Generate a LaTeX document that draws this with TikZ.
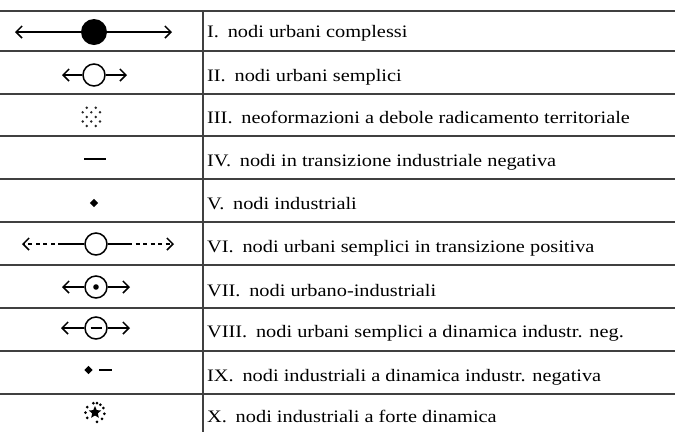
\documentclass[tikz,border=0pt]{standalone}
\usepackage{fontspec}
\setmainfont{Liberation Serif}[FakeStretch=1.16]
\usetikzlibrary{arrows.meta,shapes.geometric}
\begin{document}
\begin{tikzpicture}[x=1bp,y=-1bp,
    rule/.style={color=black!75, line width=1.4bp},
    link/.style={line width=1.5bp},
    barb/.style={link, -{Straight Barb[length=6bp,width=12bp,line width=1.5bp]}},
    ring/.style={circle, draw, line width=1.5bp, minimum size=22bp, inner sep=0pt},
    core/.style={circle, fill, minimum size=26bp, inner sep=0pt},
    spot/.style={diamond, fill, minimum size=8.5bp, inner sep=0pt},
    lbl/.style={anchor=base west, inner sep=0pt, font=\fontsize{17.6}{20}\selectfont}]
    \useasboundingbox (0,0) rectangle (675,432);

    % table rules
    \foreach \y in {11,51,94,136,179,222,265,308,351,394}
        \draw[rule] (0,\y) -- (675,\y);
    \draw[rule] (203,11) -- (203,432);

    % I
    \node[core] (c1) at (94,32) {};
    \coordinate (l1) at (15,32);
    \coordinate (r1) at (172,32);
    \draw[barb] (c1) -- (l1);
    \draw[barb] (c1) -- (r1);

    % II
    \node[ring] (c2) at (94,75) {};
    \coordinate (l2) at (62,75);
    \coordinate (r2) at (127,75);
    \draw[barb] (c2) -- (l2);
    \draw[barb] (c2) -- (r2);

    % III
    \foreach \x/\y in {86.7/107.7, 95.7/107.7, 82.7/112.3, 91.3/112.3, 100/112.3,
                      86.7/117, 95.7/117, 82.7/121.5, 91.3/121.5, 100/121.5,
                      86.7/126, 95.7/126}
        \fill[black!85] (\x,\y) circle (1.35bp);

    % IV
    \coordinate (a4) at (84,159);
    \coordinate (b4) at (106,159);
    \draw[line width=2bp] (a4) -- (b4);

    % V
    \node[spot] (d5) at (94,203) {};

    % VI
    \node[ring] (c6) at (96,244) {};
    \coordinate (l6) at (22,244);
    \coordinate (m6) at (62,244);
    \coordinate (n6) at (128,244);
    \coordinate (r6) at (174,244);
    \draw[link] (c6) -- (m6);
    \draw[link] (c6) -- (n6);
    \draw[barb, dash pattern=on 4bp off 3.5bp] (m6) -- (l6);
    \draw[barb, dash pattern=on 4bp off 3.5bp] (n6) -- (r6);

    % VII
    \node[ring] (c7) at (96,287) {};
    \fill (c7) circle (2.8bp);
    \coordinate (l7) at (62,287);
    \coordinate (r7) at (130,287);
    \draw[barb] (c7) -- (l7);
    \draw[barb] (c7) -- (r7);

    % VIII
    \node[ring] (c8) at (96,328) {};
    \draw[link] ([xshift=-5.5bp]c8.center) -- ([xshift=5.5bp]c8.center);
    \coordinate (l8) at (61,328);
    \coordinate (r8) at (130,328);
    \draw[barb] (c8) -- (l8);
    \draw[barb] (c8) -- (r8);

    % IX
    \node[spot] (d9) at (88.5,370) {};
    \coordinate (a9) at (99,370);
    \coordinate (b9) at (111.5,370);
    \draw[line width=2bp] (a9) -- (b9);

    % X
    \node[star, star points=5, star point ratio=2.2, fill, minimum size=13bp, inner sep=0pt] (s10) at (95,412.5) {};
    \foreach \a in {100,78,55,28,-8,-42,-78,145,180,215}
        \fill (s10.center) ++(\a:9.5bp) circle (1.5bp);

    % labels
    \node[lbl] (t1) at (207,37.7) {I.\enspace nodi urbani complessi};
    \node[lbl] (t2) at (207,81.7) {II.\enspace nodi urbani semplici};
    \node[lbl] (t3) at (207,123.3) {III.\enspace neoformazioni a debole radicamento territoriale};
    \node[lbl] (t4) at (207,166.7) {IV.\enspace nodi in transizione industriale negativa};
    \node[lbl] (t5) at (207,209) {V.\enspace nodi industriali};
    \node[lbl] (t6) at (207,252.7) {VI.\enspace nodi urbani semplici in transizione positiva};
    \node[lbl] (t7) at (207,296) {VII.\enspace nodi urbano-industriali};
    \node[lbl] (t8) at (207,337.7) {VIII.\enspace nodi urbani semplici a dinamica industr. neg.};
    \node[lbl] (t9) at (207,381.7) {IX.\enspace nodi industriali a dinamica industr. negativa};
    \node[lbl] (t10) at (207,422.7) {X.\enspace nodi industriali a forte dinamica};
\end{tikzpicture}
\end{document}
